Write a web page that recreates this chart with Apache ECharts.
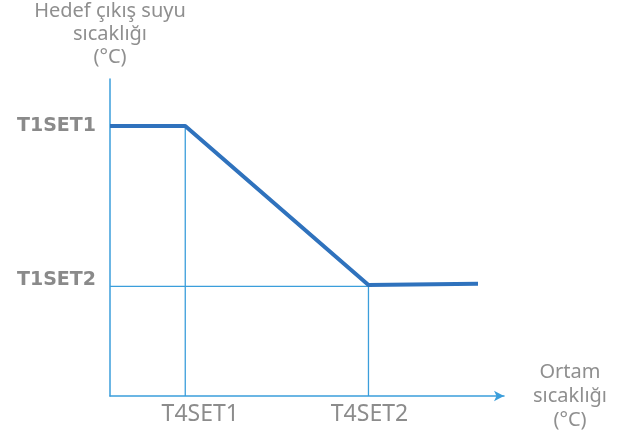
<!DOCTYPE html>
<html><head><meta charset="utf-8">
<script src="https://cdn.jsdelivr.net/npm/echarts@6/dist/echarts.min.js"></script>
<style>html,body{margin:0;padding:0;background:#fff}#c{width:630px;height:436px}</style>
</head><body><div id="c"></div>
<script>
// Schematic curve: outdoor temperature (x) vs target outlet water temperature (y)
const xTickValues = [19.1, 65.6];
const xTickLabels = ['T4SET1', 'T4SET2'];
const yTickValues = [85.2, 34.6];
const yTickLabels = ['T1SET1', 'T1SET2'];
const curveX = [0, 19.1, 65.6, 93.4];
const curveY = [85.2, 85.2, 35.0, 35.4];
const guide1X = [19.1, 19.1];
const guide1Y = [0, 85.2];
const guide2X = [0, 65.6, 65.6];
const guide2Y = [34.6, 34.6, 0];
const xName = 'Ortam\nsıcaklığı\n(°C)';
const yName = 'Hedef çıkış suyu\nsıcaklığı\n(°C)';

const zip = (a, b) => a.map((v, i) => [v, b[i]]);
const axisBlue = '#3b9edb';
const chart = echarts.init(document.getElementById('c'), null, {renderer: 'canvas'});
chart.setOption({
  animation: false,
  grid: {left: 110, top: 78, width: 394, height: 318},
  xAxis: {
    type: 'value', min: 0, max: 100,
    name: xName, nameLocation: 'end', nameGap: 66,
    nameTextStyle: {color: '#8f8f8f', fontSize: 20, fontFamily: 'Noto Sans', lineHeight: 24, align: 'center'},
    axisLine: {show: true, lineStyle: {color: axisBlue, width: 1.5}, symbol: ['none', 'arrow'], symbolSize: [8, 10]},
    axisTick: {show: false},
    splitLine: {show: false},
    axisLabel: {
      customValues: xTickValues,
      margin: 7,
      formatter: v => {
        const i = xTickValues.indexOf(v);
        return i === 0 ? '{a|' + xTickLabels[i] + '}' : '{b|' + xTickLabels[i] + '}';
      },
      rich: {
        a: {color: '#8c8c8c', fontSize: 23, fontFamily: 'Noto Sans', padding: [0, 0, 0, 30]},
        b: {color: '#8c8c8c', fontSize: 23, fontFamily: 'Noto Sans', padding: [0, 0, 0, 2]}
      }
    }
  },
  yAxis: {
    type: 'value', min: 0, max: 100,
    name: yName, nameLocation: 'end', nameGap: 10,
    nameTextStyle: {color: '#8f8f8f', fontSize: 20, fontFamily: 'Noto Sans', lineHeight: 23, align: 'center'},
    axisLine: {show: true, lineStyle: {color: axisBlue, width: 1.5}},
    axisTick: {show: false},
    splitLine: {show: false},
    axisLabel: {
      customValues: yTickValues,
      margin: 14,
      formatter: v => {
        const i = yTickValues.indexOf(v);
        return i === 0 ? '{a|' + yTickLabels[i] + '}' : '{b|' + yTickLabels[i] + '}';
      },
      rich: {
        a: {color: '#8a8a8a', fontSize: 19, fontWeight: 'bold', fontFamily: 'DejaVu Sans'},
        b: {color: '#8a8a8a', fontSize: 19, fontWeight: 'bold', fontFamily: 'DejaVu Sans', padding: [0, 0, 12, 0]}
      }
    }
  },
  series: [
    {type: 'line', data: zip(guide1X, guide1Y), symbol: 'none', lineStyle: {color: axisBlue, width: 1.3}, z: 1},
    {type: 'line', data: zip(guide2X, guide2Y), symbol: 'none', lineStyle: {color: axisBlue, width: 1.3}, z: 1},
    {type: 'line', data: zip(curveX, curveY), symbol: 'none', lineStyle: {color: '#2f72bd', width: 4}, z: 3}
  ]
});
</script></body></html>
